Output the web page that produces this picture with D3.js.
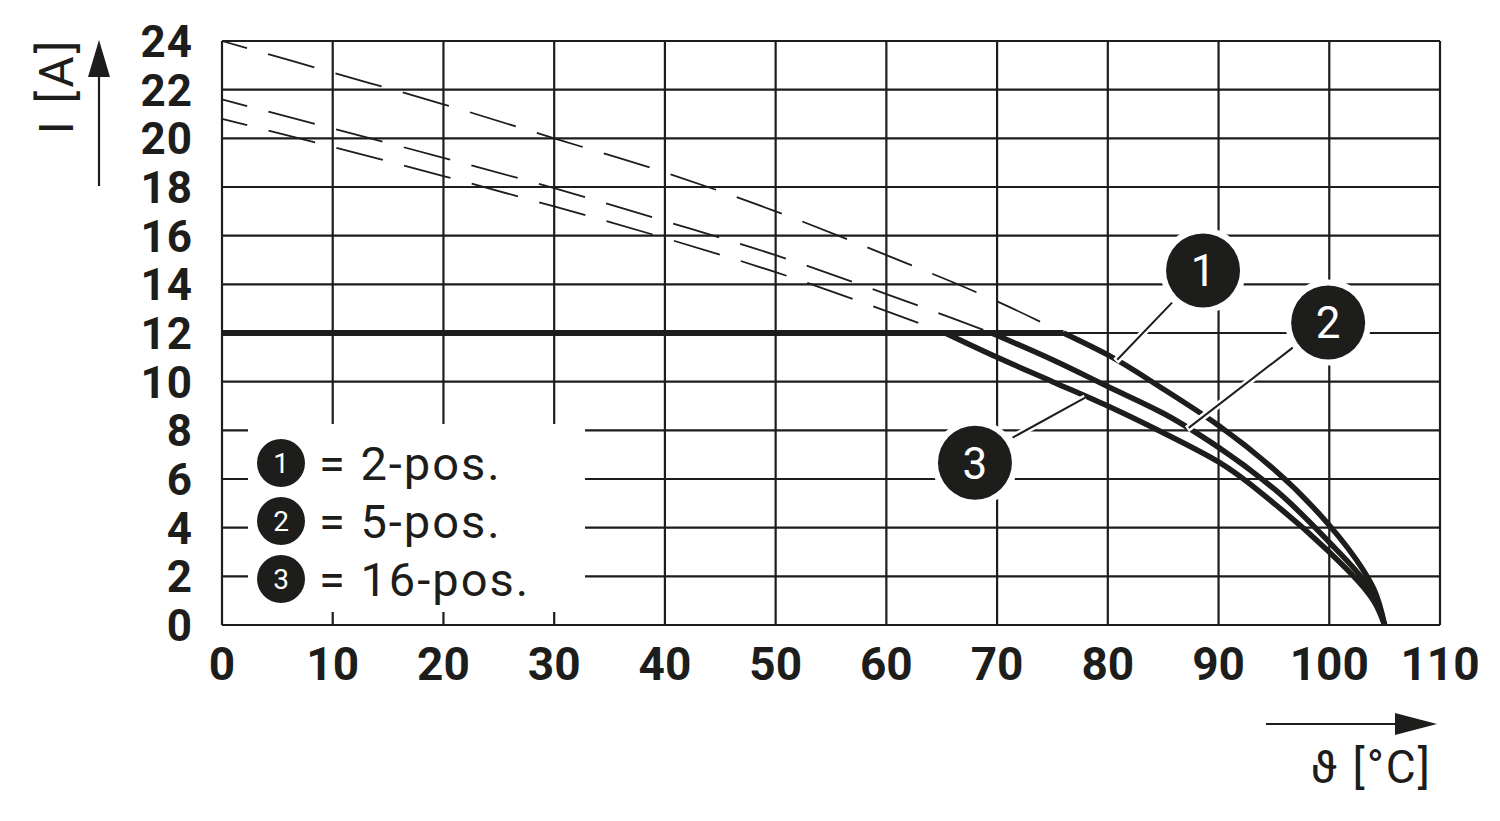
<!DOCTYPE html>
<html><head><meta charset="utf-8">
<script src="https://cdn.jsdelivr.net/npm/d3@7"></script>
<style>html,body{margin:0;padding:0;background:#fff;}svg{display:block;}</style>
</head><body>
<svg id="chart" width="1500" height="821"></svg>
<script>
// ---- data ----
const xTicks = [0,10,20,30,40,50,60,70,80,90,100,110];
const yTicks = [0,2,4,6,8,10,12,14,16,18,20,22,24];
const seriesNames = ["2-pos.","5-pos.","16-pos."];
const seriesIds = ["1","2","3"];
// dashed (extrapolated) parts
const dash1T = [0,10,20,30,40,50,60,70,76];
const dash1I = [24,22.7,21.4,20.0,18.6,17.0,15.2,13.3,12];
const dash2T = [0,10,20,30,40,50,60,66,69.5];
const dash2I = [21.6,20.4,19.2,17.95,16.6,15.2,13.6,12.6,12];
const dash3T = [0,10,20,30,40,50,60,65.3];
const dash3I = [20.8,19.65,18.45,17.2,15.9,14.5,12.9,12];
// solid derating parts
const limitT = [0,76];
const limitI = [12,12];
const solid1T = [76,80,85,90,95,100,103,104,105];
const solid1I = [12,11.1,9.7,8.2,6.4,4.1,2.3,1.5,0];
const solid2T = [69.5,75,80,85,90,95,100,103,104,105];
const solid2I = [12,10.9,9.8,8.7,7.3,5.6,3.4,1.9,1.2,0];
const solid3T = [65.3,70,75,80,85,90,95,100,103,104,105];
const solid3I = [12,11.0,10.0,9.0,7.9,6.7,5.0,3.0,1.6,1.0,0];
// callout labels (data units): circle centre and leader line
const calloutX = [88.6,99.9,68.0];
const calloutY = [14.57,12.43,6.67];
const leaderX0 = [85.8,96.7,77.96];
const leaderY0 = [13.25,11.4,9.34];
const leaderX1 = [80.85,87.3,71.4];
const leaderY1 = [10.9,8.1,7.7];

// ---- drawing ----
const ink = "#1d1d1b";
const svg = d3.select("#chart");
const x = d3.scaleLinear().domain([0,110]).range([222,1440]);
const y = d3.scaleLinear().domain([0,24]).range([625,41]);

const zip = (a,b)=>a.map((v,i)=>[v,b[i]]);
const dashLine = d3.line().x(d=>x(d[0])).y(d=>y(d[1])).curve(d3.curveMonotoneX);
const solidLine = d3.line().x(d=>x(d[0])).y(d=>y(d[1])).curve(d3.curveMonotoneY);

// grid
const g = svg.append("g");
g.selectAll("line.v").data(xTicks).join("line")
  .attr("x1",d=>x(d)).attr("x2",d=>x(d)).attr("y1",y(0)).attr("y2",y(24))
  .attr("stroke",ink).attr("stroke-width",2.2);
g.selectAll("line.h").data(yTicks).join("line")
  .attr("x1",x(0)).attr("x2",x(110)).attr("y1",d=>y(d)).attr("y2",d=>y(d))
  .attr("stroke",ink).attr("stroke-width",2.2);

// legend background box
const lgX0 = x(0)+26, lgX1 = x(0)+363, lgY0 = y(0)-201, lgY1 = y(0)-13;
svg.append("rect").attr("x",lgX0).attr("y",lgY0).attr("width",lgX1-lgX0).attr("height",lgY1-lgY0).attr("fill","#fff");

// dashed curves
[[dash1T,dash1I],[dash2T,dash2I],[dash3T,dash3I]].forEach(([t,i])=>{
  svg.append("path").attr("d",dashLine(zip(t,i))).attr("fill","none")
    .attr("stroke",ink).attr("stroke-width",1.8)
    .attr("stroke-dasharray","48,22").attr("stroke-dashoffset",22);
});

// solid curves
svg.append("path").attr("d",d3.line().x(d=>x(d[0])).y(d=>y(d[1]))(zip(limitT,limitI)))
  .attr("fill","none").attr("stroke",ink).attr("stroke-width",6);
[[solid1T,solid1I],[solid2T,solid2I],[solid3T,solid3I]].forEach(([t,i])=>{
  svg.append("path").attr("d",solidLine(zip(t,i))).attr("fill","none")
    .attr("stroke",ink).attr("stroke-width",5.5).attr("stroke-linejoin","round");
});

// callouts
seriesIds.forEach((id,k)=>{
  const x0=x(leaderX0[k]), y0=y(leaderY0[k]), x1=x(leaderX1[k]), y1=y(leaderY1[k]);
  const dx=x1-x0, dy=y1-y0, L=Math.hypot(dx,dy);
  const ex = x1+dx/L*2, ey=y1+dy/L*2;
  svg.append("line").attr("x1",x0).attr("y1",y0).attr("x2",ex).attr("y2",ey)
    .attr("stroke","#fff").attr("stroke-width",7);
  svg.append("line").attr("x1",x0).attr("y1",y0).attr("x2",x1).attr("y2",y1)
    .attr("stroke",ink).attr("stroke-width",2);
  svg.append("circle").attr("cx",x(calloutX[k])).attr("cy",y(calloutY[k])).attr("r",37)
    .attr("fill",ink).attr("stroke","#fff").attr("stroke-width",12).attr("paint-order","stroke");
  svg.append("text").attr("x",x(calloutX[k])).attr("y",y(calloutY[k])).attr("dy","0.36em")
    .attr("text-anchor","middle").attr("fill","#fff")
    .style("font-family","Roboto, 'Noto Sans', sans-serif").style("font-size","44px")
    .text(id);
});

// tick labels
svg.selectAll("text.xt").data(xTicks).join("text")
  .attr("x",d=>x(d)).attr("y",680).attr("text-anchor","middle").attr("fill",ink)
  .style("font-family","Roboto, 'Noto Sans', sans-serif").style("font-weight","bold").style("font-size","46px")
  .text(d=>d);
svg.selectAll("text.yt").data(yTicks).join("text")
  .attr("x",193).attr("y",d=>y(d)).attr("dy","0.36em").attr("text-anchor","end").attr("fill",ink)
  .style("font-family","Roboto, 'Noto Sans', sans-serif").style("font-weight","bold").style("font-size","44px")
  .style("letter-spacing","1px")
  .text(d=>d);

// legend items
seriesIds.forEach((id,k)=>{
  const cy = lgY0+39+k*58, cx = lgX0+33;
  svg.append("circle").attr("cx",cx).attr("cy",cy).attr("r",24).attr("fill",ink);
  svg.append("text").attr("x",cx).attr("y",cy).attr("dy","0.36em").attr("text-anchor","middle")
    .attr("fill","#fff").style("font-family","Roboto, 'Noto Sans', sans-serif").style("font-size","28px").text(id);
  svg.append("text").attr("x",cx+38).attr("y",cy).attr("dy","0.36em").attr("fill",ink)
    .style("font-family","Roboto, 'Noto Sans', sans-serif").style("font-size","47px").style("letter-spacing","2px")
    .text("= "+seriesNames[k]);
});

// axis titles and arrows
svg.append("line").attr("x1",99).attr("x2",99).attr("y1",186).attr("y2",70).attr("stroke",ink).attr("stroke-width",2.2);
svg.append("path").attr("d","M88,77 L110,77 L99,40 Z").attr("fill",ink);
svg.append("text").attr("transform","translate(73,86) rotate(-90)").attr("text-anchor","middle").attr("fill",ink)
  .style("font-family","Roboto, 'Noto Sans', sans-serif").style("font-size","48px").style("letter-spacing","3px").text("I [A]");

svg.append("line").attr("x1",1266).attr("x2",1405).attr("y1",724).attr("y2",724).attr("stroke",ink).attr("stroke-width",2.2);
svg.append("path").attr("d","M1395,713 L1395,735 L1437,724 Z").attr("fill",ink);
svg.append("text").attr("x",1432).attr("y",783).attr("text-anchor","end").attr("fill",ink)
  .style("font-family","Roboto, 'DejaVu Sans', sans-serif").style("font-size","46px").style("letter-spacing","2px").text("ϑ [°C]");
</script>
</body></html>
